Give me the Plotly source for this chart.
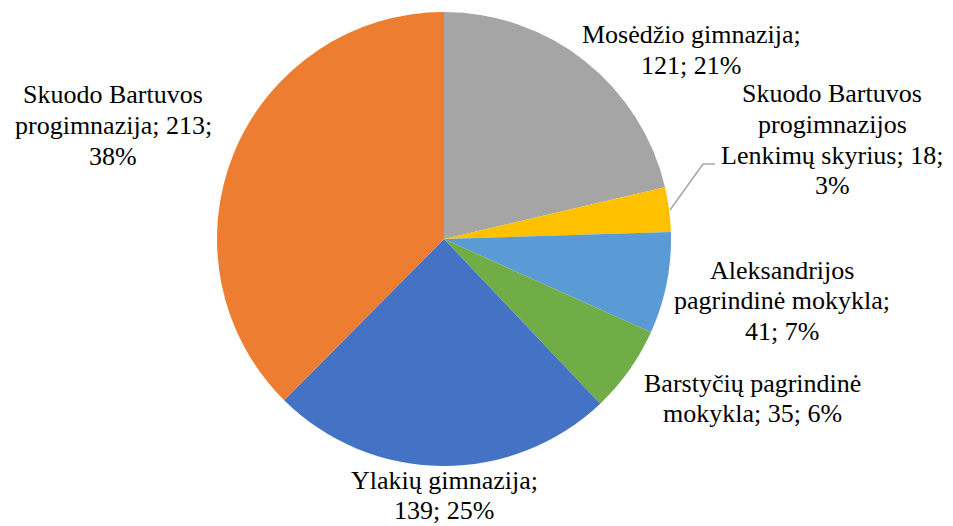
import plotly.graph_objects as go

# data (clockwise from 12 o'clock)
schools = [
    "Mosėdžio gimnazija",
    "Skuodo Bartuvos progimnazijos Lenkimų skyrius",
    "Aleksandrijos pagrindinė mokykla",
    "Barstyčių pagrindinė mokykla",
    "Ylakių gimnazija",
    "Skuodo Bartuvos progimnazija",
]
pupils = [121, 18, 41, 35, 139, 213]
colors = ["#A5A5A5", "#FFC000", "#5B9BD5", "#70AD47", "#4472C4", "#ED7D31"]

W, H = 953, 526

# label placement (pixel centre of the first line, words per line)
label_pos = [(691, 35), (832, 94), (782, 270), (752, 383), (444, 480), (113, 95)]
line_words = [[2, 2], [2, 1, 3, 1], [1, 2, 2], [2, 3], [2, 2], [2, 2, 1]]
line_gap = 30.5

fig = go.Figure()
fig.add_trace(go.Pie(
    labels=schools,
    values=pupils,
    sort=False,
    direction="clockwise",
    rotation=0,
    marker=dict(colors=colors, line=dict(width=0)),
    textinfo="none",
    showlegend=False,
    domain=dict(x=[217 / W, 671 / W], y=[(H - 466) / H, (H - 12) / H]),
))

total = sum(pupils)
annotations = []
for name, val, (px, py), split in zip(schools, pupils, label_pos, line_words):
    pct = round(val / total * 100)
    words = f"{name}; {val}; {pct}%".split(" ")
    lines = []
    i = 0
    for n in split:
        lines.append(" ".join(words[i:i + n]))
        i += n
    for k, ln in enumerate(lines):
        annotations.append(dict(
            text=ln, x=px / W, y=1 - (py + k * line_gap) / H,
            xref="paper", yref="paper", xanchor="center", yanchor="middle",
            showarrow=False,
            font=dict(family="Liberation Serif", size=26, color="#000000"),
        ))

fig.update_layout(
    width=W, height=H,
    margin=dict(l=0, r=0, t=0, b=0),
    paper_bgcolor="white",
    plot_bgcolor="white",
    font=dict(family="Liberation Serif"),
    annotations=annotations,
    shapes=[dict(
        type="path", xref="paper", yref="paper",
        path=f"M {670 / W} {1 - 210 / H} L {703 / W} {1 - 164 / H} L {715 / W} {1 - 164 / H}",
        line=dict(color="#A6A6A6", width=1.5),
    )],
)

fig.write_html("out.html", config={"displayModeBar": False},
               post_script="document.body.style.margin='0px';")
